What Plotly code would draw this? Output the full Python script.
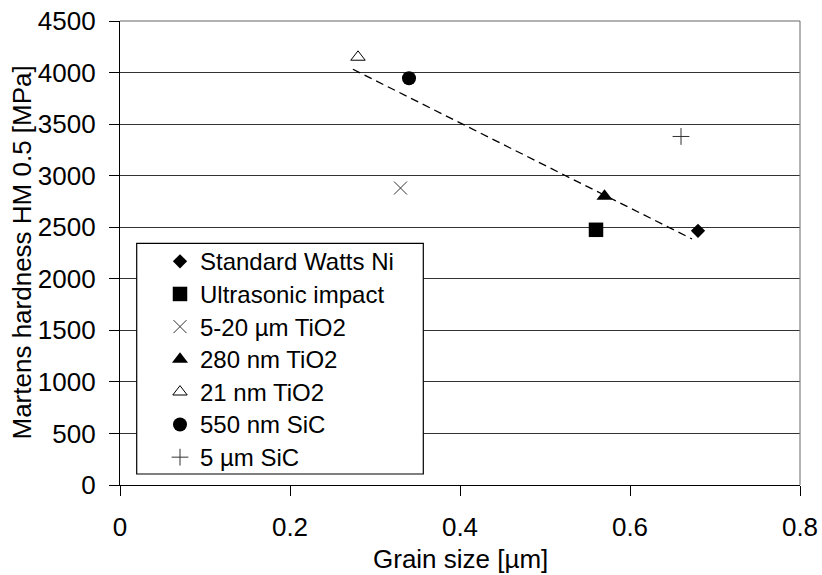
import plotly.graph_objects as go

# ---- data ----
series_names = ["Standard Watts Ni", "Ultrasonic impact", "5-20 µm TiO2",
                "280 nm TiO2", "21 nm TiO2", "550 nm SiC", "5 µm SiC"]
grain_size = [0.68, 0.56, 0.33, 0.57, 0.28, 0.34, 0.66]
hardness = [2465, 2475, 2880, 2800, 4150, 3945, 3380]
trend_x = [0.274, 0.673]
trend_y = [4032, 2386]
x_ticks = [0, 0.2, 0.4, 0.6, 0.8]
x_tick_labels = ["0", "0.2", "0.4", "0.6", "0.8"]
y_ticks = [0, 500, 1000, 1500, 2000, 2500, 3000, 3500, 4000, 4500]

# ---- styles ----
symbols = ["diamond", "square", "x-thin-open", "triangle-up", "triangle-up-open", "circle", "cross-thin-open"]
sizes = [11, 14.5, 13, 14, 12.5, 14, 12]
line_w = [0, 0, 1, 0, 1, 0, 1]
mcolors = ["black", "black", "#333333", "black", "black", "black", "#333333"]

FONT = "Liberation Sans, Arial, sans-serif"
W, H = 822, 575
# plot area in page pixels: left 120, right 800, top 21, bottom 485
L, T = 120, 21
R, B = W - 800, H - 485
pw, ph = W - L - R, H - T - B

def px_x(p):  # page pixel -> paper x
    return (p - L) / pw

def px_y(p):  # page pixel -> paper y
    return (H - B - p) / ph

fig = go.Figure()

fig.add_trace(go.Scatter(x=trend_x, y=trend_y, mode="lines", showlegend=False,
                         line=dict(color="black", width=1.3, dash="8px,5px"),
                         hoverinfo="skip"))

for i, name in enumerate(series_names):
    fig.add_trace(go.Scatter(
        x=[grain_size[i]], y=[hardness[i]], mode="markers",
        name=f"<span style='font-size:24px'>{name}</span>",
        marker=dict(symbol=symbols[i], size=sizes[i], color=mcolors[i],
                    line=dict(width=line_w[i], color=mcolors[i]))))

shapes = [
    dict(type="line", xref="paper", yref="paper", x0=1, x1=1, y0=0, y1=1,
         line=dict(color="#808080", width=1.2), layer="above"),
    dict(type="line", xref="paper", yref="paper", x0=0, x1=1, y0=1, y1=1,
         line=dict(color="#666666", width=1.2), layer="above"),
    dict(type="rect", xref="paper", yref="paper",
         x0=px_x(136.7), x1=px_x(423.3), y0=px_y(474), y1=px_y(243.3),
         line=dict(color="black", width=1.2), fillcolor="white", layer="above"),
]

annotations = [
    dict(text="Martens hardness HM 0.5 [MPa]", xref="paper", yref="paper",
         x=px_x(21.5), y=0.5, xanchor="center", yanchor="middle", textangle=-90,
         showarrow=False, font=dict(family=FONT, size=26, color="black")),
    dict(text="Grain size [µm]", xref="paper", yref="paper",
         x=0.5, y=px_y(559), xanchor="center", yanchor="middle",
         showarrow=False, font=dict(family=FONT, size=26, color="black")),
]

fig.update_layout(
    template="none",
    width=W, height=H,
    margin=dict(l=L, r=R, t=T, b=B, pad=0, autoexpand=False),
    paper_bgcolor="white", plot_bgcolor="white",
    font=dict(family=FONT, size=26, color="black"),
    shapes=shapes, annotations=annotations,
    hovermode=False,
    legend=dict(x=px_x(160), y=px_y(240), xanchor="left", yanchor="top",
                bgcolor="rgba(0,0,0,0)", borderwidth=0,
                font=dict(family=FONT, size=22.8, color="black")),
    xaxis=dict(range=[0, 0.8], tickvals=x_ticks, ticktext=x_tick_labels,
               automargin=False,
               showgrid=False, zeroline=False, showline=True, linecolor="black",
               linewidth=1.2, ticks="outside", ticklen=10, tickcolor="black",
               tickwidth=1, ticklabelstandoff=9, ticklabeloverflow="allow",
               tickfont=dict(family=FONT, size=26, color="black")),
    yaxis=dict(range=[0, 4500], tickvals=y_ticks, showgrid=True,
               automargin=False,
               gridcolor="#333333", gridwidth=1, zeroline=False, showline=True,
               linecolor="black", linewidth=1.2, ticks="outside", ticklen=10,
               tickcolor="black", tickwidth=1, ticklabelstandoff=8,
               ticklabeloverflow="allow",
               tickfont=dict(family=FONT, size=26, color="black")),
)

fig.write_html("out.html",
               config={"displayModeBar": False},
               post_script="document.body.style.margin='0';"
                           "document.body.style.overflow='hidden';")
